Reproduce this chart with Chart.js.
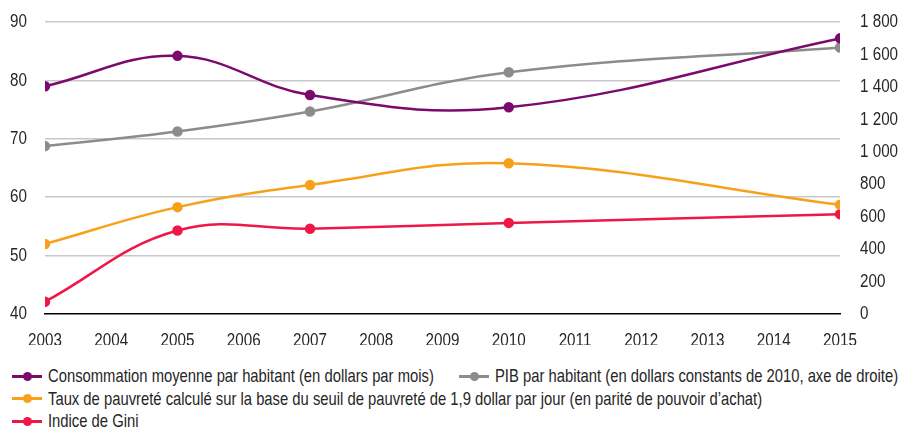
<!DOCTYPE html>
<html>
<head>
<meta charset="utf-8">
<script src="https://cdn.jsdelivr.net/npm/chart.js@4"></script>
<style>
  body { margin: 0; background: #fff; font-family: "Liberation Sans", Arial, sans-serif; }
  #wrap { width: 901px; height: 345px; position: relative; }
  #legend { position: absolute; left: 0; top: 364px; width: 901px; font-size: 18.5px; color: #262626; }
  .row { height: 22.6px; line-height: 22px; white-space: nowrap; }
  .item { display: inline-block; margin-right: 13px; }
  .txt { display: inline-block; transform-origin: 0 50%; vertical-align: middle; }
  .mk { display: inline-block; width: 30px; height: 3px; position: relative; vertical-align: middle; margin: 0 6px 0 12px; }
  .mk i { position: absolute; left: 11px; top: -3px; width: 9px; height: 9px; border-radius: 50%; }
</style>
</head>
<body>
<div id="wrap"><canvas id="myChart" width="901" height="345"></canvas></div>
<div id="legend"></div>
<script>
var years = [2003, 2005, 2007, 2010, 2015];
var consommation = [79.0, 84.2, 77.5, 75.4, 87.2];
var pib = [1035, 1125, 1248, 1490, 1643];
var pauvrete = [52.0, 58.3, 62.1, 65.8, 58.7];
var gini = [42.1, 54.3, 54.6, 55.6, 57.1];

var labels = [
    'Consommation moyenne par habitant (en dollars par mois)',
    'PIB par habitant (en dollars constants de 2010, axe de droite)',
    'Taux de pauvreté calculé sur la base du seuil de pauvreté de 1,9 dollar par jour (en parité de pouvoir d\u2019achat)',
    'Indice de Gini'
];
var colors = ['#7b0a6c', '#8c8c8c', '#f7a11a', '#ee1848'];

// the reference uses a narrow face; squeeze the regular one instead
var NARROW = 0.8;

function pts(arr) {
    var out = [];
    for (var i = 0; i < years.length; i++) out.push({ x: years[i], y: arr[i] });
    return out;
}

function ds(i, arr, axis) {
    return {
        label: labels[i],
        data: pts(arr),
        yAxisID: axis,
        borderColor: colors[i],
        backgroundColor: colors[i],
        borderWidth: 2.5,
        pointRadius: 4,
        pointHoverRadius: 4,
        tension: 0.4,
        fill: false
    };
}

var tickFont = { family: '"Liberation Sans", Arial, sans-serif', size: 19 };

var ctx = document.getElementById("myChart");
var c2d = ctx.getContext('2d');
var origFill = c2d.fillText;
c2d.fillText = function (t, x, y, mw) {
    var w = this.measureText(t).width * NARROW;
    if (mw !== undefined) w = Math.min(w, mw);
    origFill.call(this, t, x, y, w);
};

// vertical axes: fixed width, no extra top/bottom padding
function fitY(w) {
    return function (s) {
        s.width = w;
        s.paddingTop = 0;
        s.paddingBottom = 0;
    };
}

var myChart = new Chart(ctx, {
    type: 'line',
    data: {
        datasets: [
            ds(0, consommation, 'y'),
            ds(1, pib, 'y2'),
            ds(2, pauvrete, 'y'),
            ds(3, gini, 'y')
        ]
    },
    options: {
        responsive: false,
        animation: false,
        layout: { padding: { top: 22, left: 0, right: 0, bottom: 0 } },
        plugins: { legend: { display: false }, tooltip: { enabled: false } },
        scales: {
            x: {
                type: 'linear',
                min: 2003,
                max: 2015,
                grid: { display: false, drawTicks: false },
                border: { display: true, color: '#000', width: 1.5 },
                ticks: {
                    stepSize: 1,
                    padding: 15,
                    color: '#262626',
                    font: tickFont,
                    maxRotation: 0,
                    callback: function (v) { return String(v); }
                },
                afterFit: function (s) { s.height = 31; }
            },
            y: {
                position: 'left',
                min: 40,
                max: 90,
                grid: {
                    drawTicks: false,
                    color: function (c) { return c.tick.value === 40 ? 'rgba(0,0,0,0)' : '#c8c8c8'; },
                    lineWidth: 1.5
                },
                border: { display: false },
                ticks: { stepSize: 10, padding: 18, color: '#262626', font: tickFont },
                afterFit: fitY(45)
            },
            y2: {
                position: 'right',
                min: 0,
                max: 1800,
                grid: { display: false, drawTicks: false },
                border: { display: false },
                ticks: {
                    stepSize: 200,
                    padding: 20,
                    color: '#262626',
                    font: tickFont,
                    callback: function (v) {
                        return v >= 1000 ? Math.floor(v / 1000) + ' ' + String(v % 1000).padStart(3, '0') : String(v);
                    }
                },
                afterFit: fitY(61)
            }
        }
    }
});

// legend rows as in the reference
var rows = [[0, 1], [2], [3]];
var html = '';
rows.forEach(function (r) {
    html += '<div class="row">';
    r.forEach(function (i) {
        html += '<span class="item"><span class="mk" style="background:' + colors[i] + '"><i style="background:' + colors[i] + '"></i></span><span class="txt">' + labels[i] + '</span></span>';
    });
    html += '</div>';
});
document.getElementById('legend').innerHTML = html;
var txts = document.querySelectorAll('#legend .txt');
for (var k = 0; k < txts.length; k++) {
    var w = txts[k].offsetWidth;
    txts[k].style.transform = 'scaleX(' + NARROW + ')';
    txts[k].style.marginRight = (-(1 - NARROW) * w) + 'px';
}
</script>
</body>
</html>
